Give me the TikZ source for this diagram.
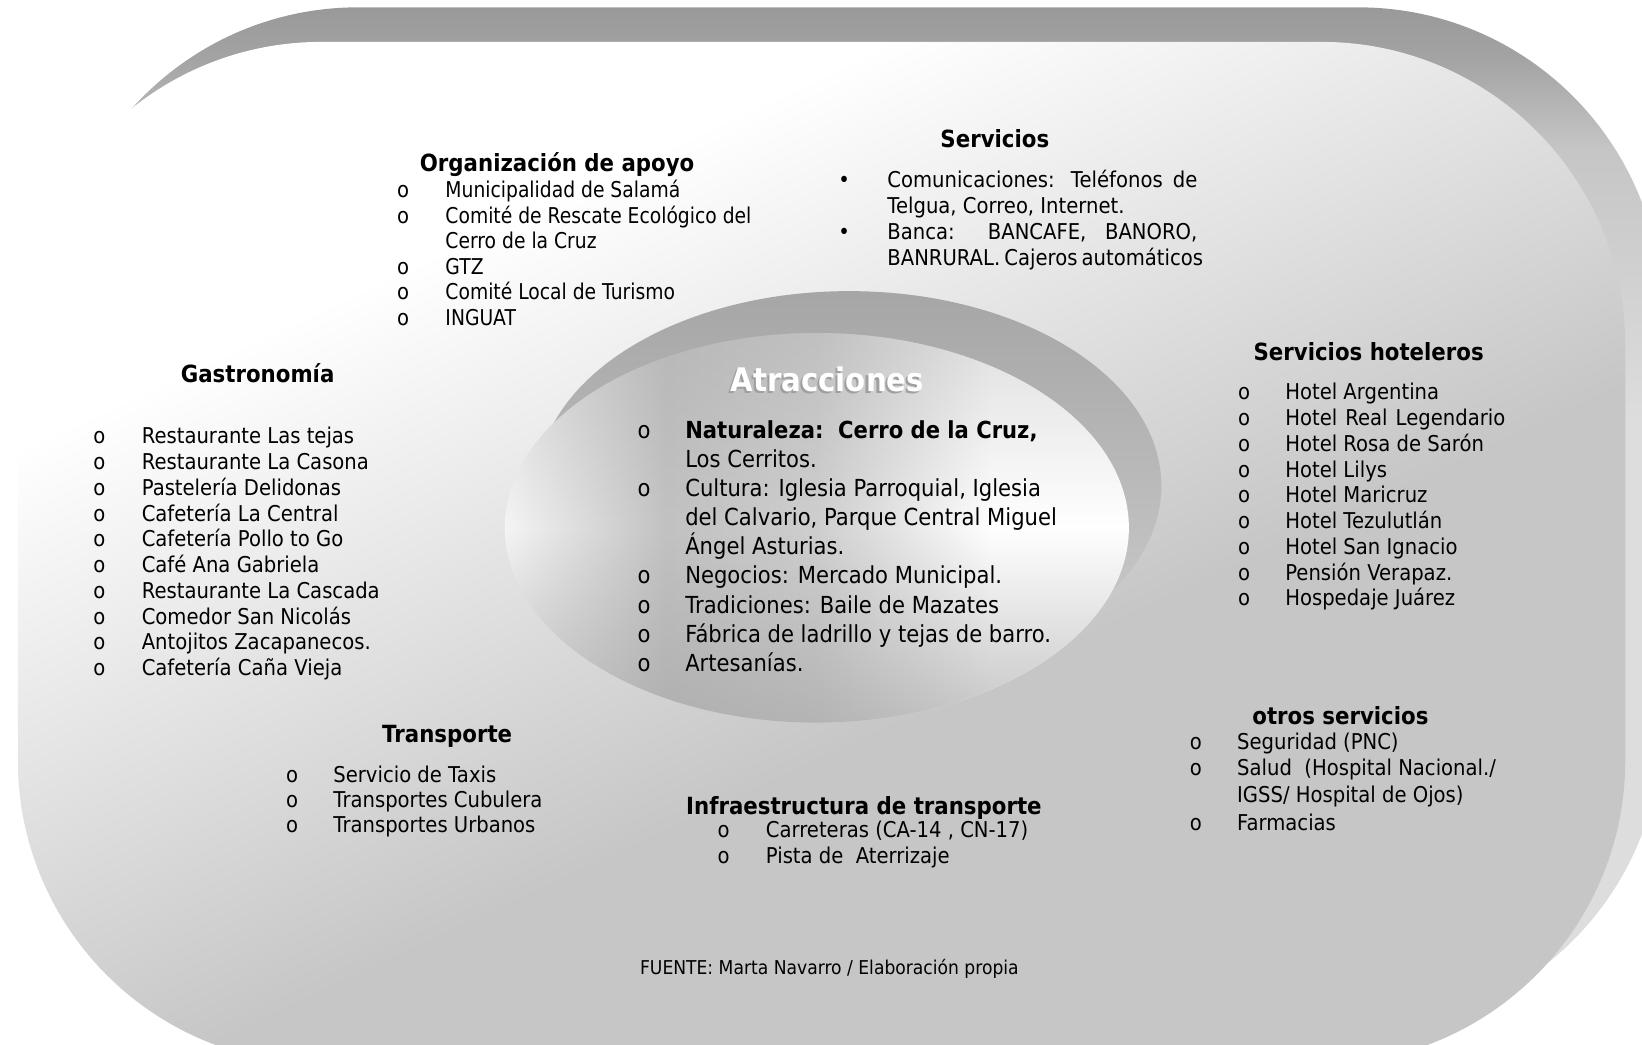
\documentclass[tikz,border=0pt]{standalone}
\usepackage{fontspec}
\setmainfont{DejaVu Sans}[FakeStretch=0.9]
\newfontfamily\narrowfont{DejaVu Sans}[FakeStretch=0.86]
\usetikzlibrary{fadings}

% Degradados (la figura ocupa de 25bp a 75bp)
\pgfdeclarehorizontalshading{facegrad}{100bp}{color(0bp)=(white); color(32bp)=(white); color(58bp)=(gray!45); color(100bp)=(gray!45)}
\pgfdeclareverticalshading{backgrad}{100bp}{color(0bp)=(gray!27); color(55bp)=(gray!27); color(68bp)=(gray!45); color(72.5bp)=(gray!72); color(75bp)=(gray!80); color(100bp)=(gray!80)}
\pgfdeclarehorizontalshading{ovalgrad}{100bp}{color(0bp)=(gray!8); color(25bp)=(gray!8); color(38bp)=(gray!48); color(50bp)=(gray!38); color(64bp)=(white); color(100bp)=(white)}
\tikzfading[name=ovalfade, top color=transparent!65, bottom color=transparent!35, middle color=transparent!100]

\begin{document}
\begin{tikzpicture}[x=0.5pt, y=-0.5pt,
  txt/.style={anchor=mid west, inner sep=0pt, yshift=-1.2pt, font=\fontsize{10.4}{12}\selectfont},
  dot/.style={txt, anchor=mid},
  head/.style={anchor=mid, inner sep=0pt, yshift=-1.7pt, font=\bfseries\fontsize{11.3}{13}\selectfont},
  big/.style={txt, font=\fontsize{11.2}{13}\selectfont},
  bigdot/.style={big, anchor=mid},
  titulo/.style={anchor=mid, inner sep=0pt, yshift=-3pt, font=\bfseries\fontsize{15.5}{18}\selectfont}]

\useasboundingbox (0,0) rectangle (1568,997);
\clip (0,0) rectangle (1568,997);

% Caja exterior
\shade[shading=backgrad, rounded corners=145pt] (52,7) rectangle (1587,983);
\shade[shading=facegrad, shading angle=-65, rounded corners=145pt] (17,40) rectangle (1552,1016);

% Elipse central
\shade[top color=gray!70, bottom color=gray!38] (811,464) ellipse [x radius=298, y radius=186];
\shade[shading=ovalgrad] (780,504) ellipse [x radius=298, y radius=186];
\fill[gray!70, path fading=ovalfade] (780,504) ellipse [x radius=298, y radius=186];

\node[titulo, text=gray!75] (atr-s) at (788,364) {Atracciones};
\node[titulo, text=white] (atr) at (790,362) {Atracciones};
\foreach \t [count=\i] in {{\textbf{Naturaleza:\ \ Cerro de la Cruz,}}, Los Cerritos., {Cultura: Iglesia Parroquial, Iglesia}, {del Calvario, Parque Central Miguel}, Ángel Asturias., Negocios: Mercado Municipal., Tradiciones: Baile de Mazates, Fábrica de ladrillo y tejas de barro., Artesanías.}
  \node[big] (atr-\i) at (654,{411+27.75*(\i-1)}) {\t};
\foreach \i in {1,3,6,7,8,9}
  \node[bigdot] (atr-o\i) at (615,{411+27.75*(\i-1)}) {o};

% Organizacion de apoyo
\node[head] (org) at (532,155) {Organización de apoyo};
\foreach \t [count=\i] in {Municipalidad de Salamá, Comité de Rescate Ecológico del, Cerro de la Cruz, GTZ, Comité Local de Turismo, INGUAT}
  \node[txt] (org-\i) at (425,{181+24.4*(\i-1)}) {\narrowfont\t};
\foreach \i in {1,2,4,5,6}
  \node[dot] (org-o\i) at (385,{181+24.4*(\i-1)}) {o};

% Servicios
\node[head] (ser) at (950,132) {Servicios};
\node[txt] (ser-1) at (847,171) {\makebox[148pt][s]{Comunicaciones: Teléfonos de}};
\node[txt] (ser-2) at (847,196) {Telgua, Correo, Internet.};
\node[txt] (ser-3) at (847,221) {\makebox[148pt][s]{Banca: BANCAFE, BANORO,}};
\node[txt] (ser-4) at (847,246) {\makebox[148pt][s]{BANRURAL. Cajeros automáticos}};
\node[dot] (ser-o1) at (806,171) {•};
\node[dot] (ser-o3) at (806,221) {•};

% Gastronomia
\node[head] (gas) at (246,356) {Gastronomía};
\foreach \t [count=\i] in {Restaurante Las tejas, Restaurante La Casona, Pastelería Delidonas, Cafetería La Central, Cafetería Pollo to Go, Café Ana Gabriela, Restaurante La Cascada, Comedor San Nicolás, Antojitos Zacapanecos., Cafetería Caña Vieja}{
  \node[dot] (gas-o\i) at (95,{416+24.6*(\i-1)}) {o};
  \node[txt] (gas-\i) at (135,{416+24.6*(\i-1)}) {\t};
}

% Servicios hoteleros
\node[head] (hot) at (1307,335) {Servicios hoteleros};
\foreach \t [count=\i] in {Hotel Argentina, {\makebox[105pt][s]{Hotel Real Legendario}}, Hotel Rosa de Sarón, Hotel Lilys, Hotel Maricruz, Hotel Tezulutlán, Hotel San Ignacio, Pensión Verapaz., Hospedaje Juárez}{
  \node[dot] (hot-o\i) at (1188,{374+24.6*(\i-1)}) {o};
  \node[txt] (hot-\i) at (1227,{374+24.6*(\i-1)}) {\t};
}

% Transporte
\node[head] (tra) at (427,700) {Transporte};
\foreach \t [count=\i] in {Servicio de Taxis, Transportes Cubulera, Transportes Urbanos}{
  \node[dot] (tra-o\i) at (279,{739+24*(\i-1)}) {o};
  \node[txt] (tra-\i) at (318,{739+24*(\i-1)}) {\t};
}

% Infraestructura de transporte
\node[head] (inf) at (825,769) {Infraestructura de transporte};
\foreach \t [count=\i] in {{Carreteras (CA-14 , CN-17)}, Pista de\ \ Aterrizaje}{
  \node[dot] (inf-o\i) at (691,{792+25*(\i-1)}) {o};
  \node[txt] (inf-\i) at (731,{792+25*(\i-1)}) {\t};
}

% Otros servicios
\node[head] (otr) at (1280,683) {otros servicios};
\node[txt] (otr-1) at (1181,708) {Seguridad (PNC)};
\node[txt] (otr-2) at (1181,733) {Salud\ \ (Hospital Nacional./};
\node[txt] (otr-3) at (1181,758) {IGSS/ Hospital de Ojos)};
\node[txt] (otr-4) at (1181,785) {Farmacias};
\foreach \y [count=\i] in {708,733,785}
  \node[dot] (otr-o\i) at (1142,\y) {o};

% Fuente
\node[anchor=mid, inner sep=0pt, yshift=-1.2pt, font=\fontsize{9.1}{11}\selectfont] (fue) at (792,923) {FUENTE: Marta Navarro / Elaboración propia};

\end{tikzpicture}
\end{document}
